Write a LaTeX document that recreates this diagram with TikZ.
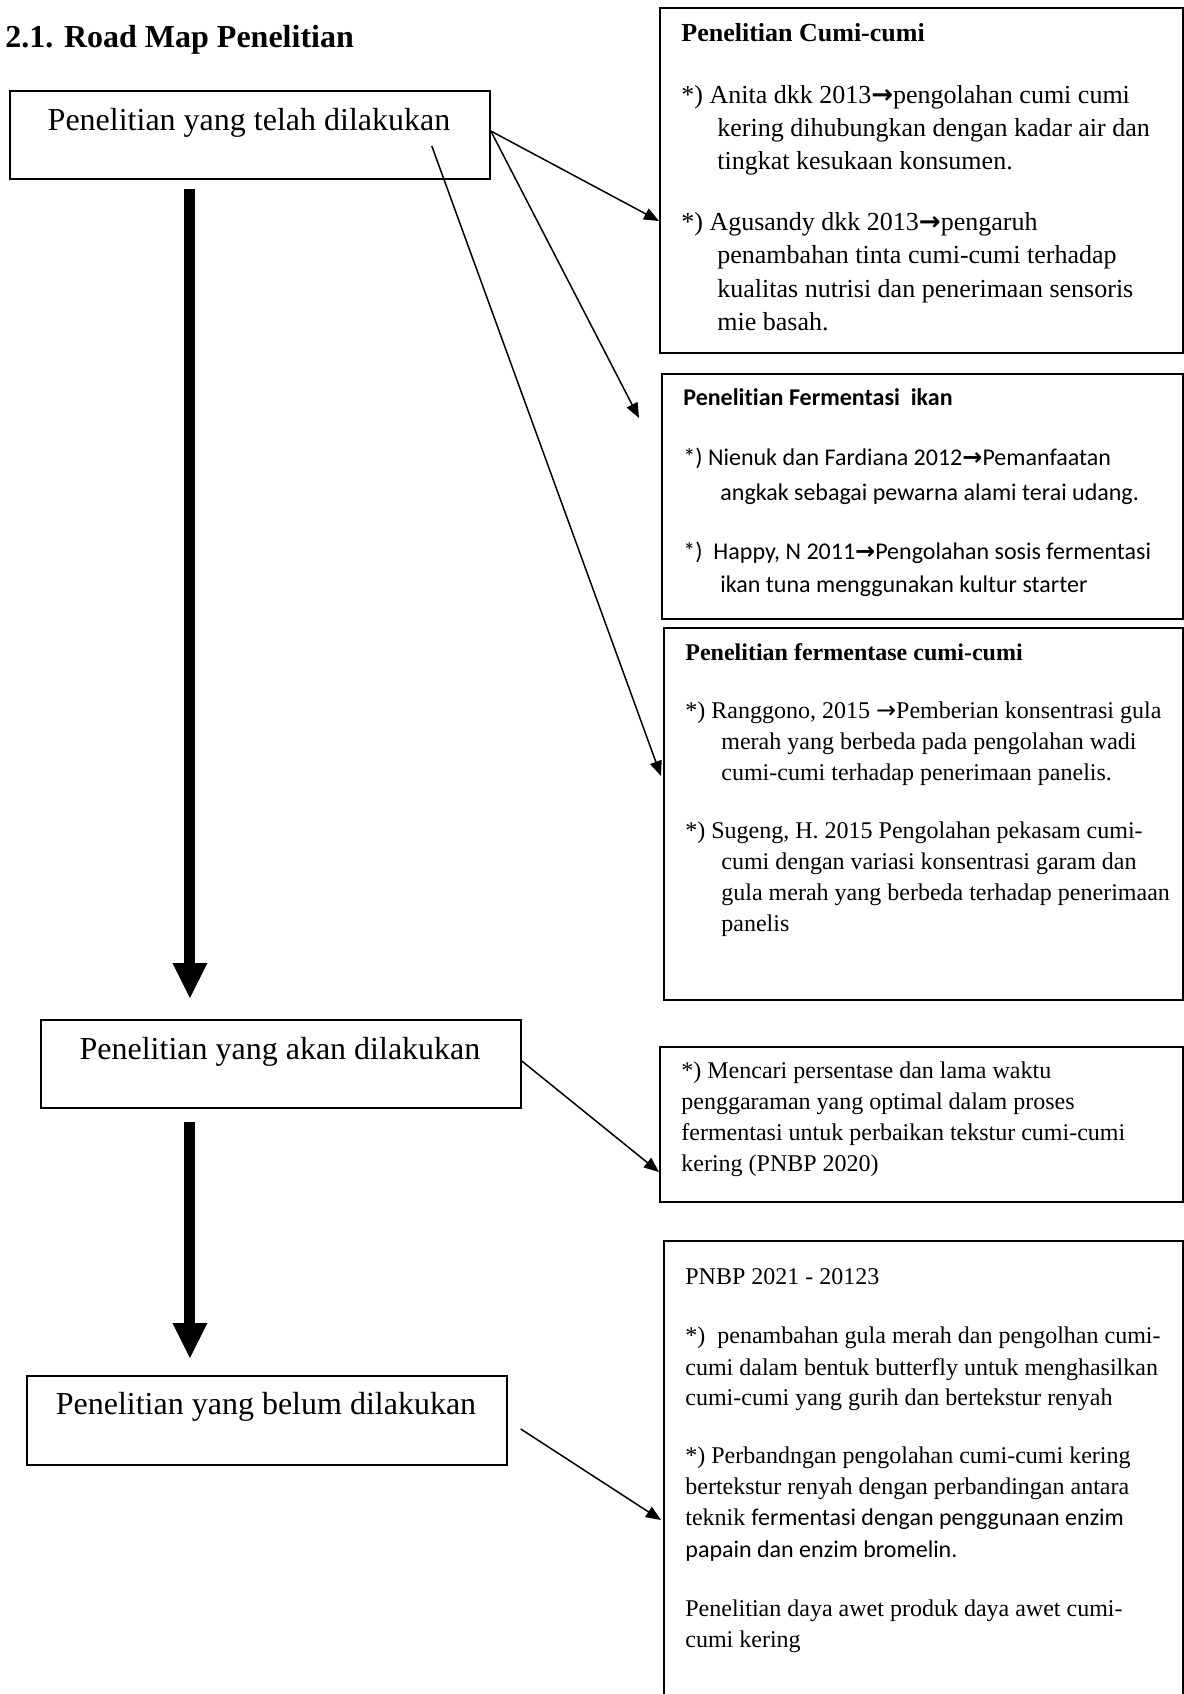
\documentclass[tikz,border=0pt]{standalone}
\usepackage{fontspec}
\setmainfont{Liberation Serif}[Ligatures=NoCommon]
\newfontfamily\calfont{Carlito}[Ligatures=NoCommon]
\newfontfamily\arrfont{DejaVu Sans}
\usetikzlibrary{arrows.meta}
\newcommand{\rarr}{{\arrfont\bfseries\char"2192}}
\newcommand{\rarrthin}{{\arrfont\char"2192}}
\tikzset{
  rbox/.style={draw, line width=1pt, anchor=north west, inner sep=0pt},
  lbox/.style={draw, line width=0.9pt, anchor=north west, inner sep=0pt, minimum width=240pt, minimum height=44pt},
  ltxt/.style={font=\fontsize{16}{19}\selectfont, anchor=base, inner sep=0pt},
  ttl/.style={font=\fontsize{16}{19}\selectfont\bfseries, anchor=base west, inner sep=0pt},
  rA/.style={font=\fontsize{13}{16}\selectfont, anchor=base west, inner sep=0pt},
  rB/.style={font=\calfont\fontsize{12}{15}\selectfont, anchor=base west, inner sep=0pt},
  rT/.style={font=\fontsize{12}{15}\selectfont, anchor=base west, inner sep=0pt},
  conn/.style={line width=0.75pt, -{Triangle[length=7.5pt,width=6pt]}},
  bigarrow/.style={line width=5.5pt, -{Triangle[length=18pt,width=16pt]}},
}
\begin{document}
\begin{tikzpicture}[x=0.5pt,y=-0.5pt]
\useasboundingbox (0,0) rectangle (1184,1694);
\fill[white] (0,0) rectangle (1184,1694);
\clip (0,0) rectangle (1184,1694);

% title
\node[ttl] (title) at (5,47) {2.1. Road Map Penelitian};

% left boxes
\node[lbox] (b1) at (9,90) {};
\node[ltxt] (t1) at (249,130) {Penelitian yang telah dilakukan};
\node[lbox] (b2) at (40,1019) {};
\node[ltxt] (t2) at (280,1059) {Penelitian yang akan dilakukan};
\node[lbox, minimum height=44.5pt] (b3) at (26,1375) {};
\node[ltxt] (t3) at (266,1414) {Penelitian yang belum dilakukan};

% right boxes
\node[rbox, minimum width=261.5pt, minimum height=172.5pt] (bA) at (659,7) {};
\node[rbox, minimum width=260.5pt, minimum height=122.5pt] (bB) at (661,373) {};
\node[rbox, minimum width=259.5pt, minimum height=186pt] (bC) at (663,627) {};
\node[rbox, minimum width=261.5pt, minimum height=77.5pt] (bD) at (659,1046) {};
\node[rbox, minimum width=259.5pt, minimum height=240pt] (bE) at (663,1240) {};

% box A text
\node[rA, font=\fontsize{13}{16}\selectfont\bfseries] (a0) at (681,41) {Penelitian Cumi-cumi};
\node[rA] (a1) at (681,103) {*) Anita dkk 2013\rarr pengolahan cumi cumi};
\node[rA] (a2) at (717,136) {kering dihubungkan dengan kadar air dan};
\node[rA] (a3) at (717,169) {tingkat kesukaan konsumen.};
\node[rA] (a4) at (681,230) {*) Agusandy dkk 2013\rarr pengaruh};
\node[rA] (a5) at (717,263) {penambahan tinta cumi-cumi terhadap};
\node[rA] (a6) at (717,297) {kualitas nutrisi dan penerimaan sensoris};
\node[rA] (a7) at (717,330) {mie basah.};

% box B text
\node[rB, font=\calfont\fontsize{12}{15}\selectfont\bfseries] (bb0) at (683,405) {Penelitian Fermentasi\ \ ikan};
\node[rB] (bb1) at (683,465) {*) Nienuk dan Fardiana 2012\rarr Pemanfaatan};
\node[rB] (bb2) at (720,500) {angkak sebagai pewarna alami terai udang.};
\node[rB] (bb3) at (683,559) {*)\ \ Happy, N 2011\rarr Pengolahan sosis fermentasi};
\node[rB] (bb4) at (720,592) {ikan tuna menggunakan kultur starter};

% box C text
\node[rT, font=\fontsize{12}{15}\selectfont\bfseries] (c0) at (685,660) {Penelitian fermentase cumi-cumi};
\node[rT] (c1) at (685,718) {*) Ranggono, 2015 \rarrthin Pemberian konsentrasi gula};
\node[rT] (c2) at (721,749) {merah yang berbeda pada pengolahan wadi};
\node[rT] (c3) at (721,780) {cumi-cumi terhadap penerimaan panelis.};
\node[rT] (c4) at (685,838) {*) Sugeng, H. 2015 Pengolahan pekasam cumi-};
\node[rT] (c5) at (721,869) {cumi dengan variasi konsentrasi garam dan};
\node[rT] (c6) at (721,900) {gula merah yang berbeda terhadap penerimaan};
\node[rT] (c7) at (721,931) {panelis};

% box D text
\node[rT] (d1) at (681,1078) {*) Mencari persentase dan lama waktu};
\node[rT] (d2) at (681,1109) {penggaraman yang optimal dalam proses};
\node[rT] (d3) at (681,1140) {fermentasi untuk perbaikan tekstur cumi-cumi};
\node[rT] (d4) at (681,1171) {kering (PNBP 2020)};

% box E text
\node[rT] (e0) at (685,1284) {PNBP 2021 - 20123};
\node[rT] (e1) at (685,1343) {*)\ \ penambahan gula merah dan pengolhan cumi-};
\node[rT] (e2) at (685,1375) {cumi dalam bentuk butterfly untuk menghasilkan};
\node[rT] (e3) at (685,1405) {cumi-cumi yang gurih dan bertekstur renyah};
\node[rT] (e4) at (685,1463) {*) Perbandngan pengolahan cumi-cumi kering};
\node[rT] (e5) at (685,1494) {bertekstur renyah dengan perbandingan antara};
\node[rT] (e6) at (685,1525) {teknik {\calfont fermentasi dengan penggunaan enzim}};
\node[rT] (e7) at (685,1557) {{\calfont papain dan enzim bromelin.}};
\node[rT] (e8) at (685,1616) {Penelitian daya awet produk daya awet cumi-};
\node[rT] (e9) at (685,1647) {cumi kering};

% thin connectors
\draw[conn] ([yshift=-20.5pt]b1.north east) -- ([yshift=-107pt]bA.north west);
\draw[conn] ([yshift=-20.5pt]b1.north east) -- ([xshift=-11pt,yshift=-22.5pt]bB.north west);
\draw[conn] ([xshift=-29.5pt,yshift=-28pt]b1.north east) -- ([xshift=-1pt,yshift=-74.5pt]bC.north west);
\draw[conn] ([yshift=-21pt]b2.north east) -- ([yshift=-63pt]bD.north west);
\draw[conn] ([xshift=6.5pt,yshift=-27pt]b3.north east) -- ([xshift=-1pt,yshift=-140pt]bE.north west);

% thick arrows
\draw[bigarrow] ([xshift=-30pt,yshift=-4.5pt]b1.south) -- ([xshift=-45.5pt,yshift=10pt]b2.north);
\draw[bigarrow] ([xshift=-45.5pt,yshift=-6.5pt]b2.south) -- ([xshift=-38.5pt,yshift=8pt]b3.north);
\end{tikzpicture}
\end{document}
